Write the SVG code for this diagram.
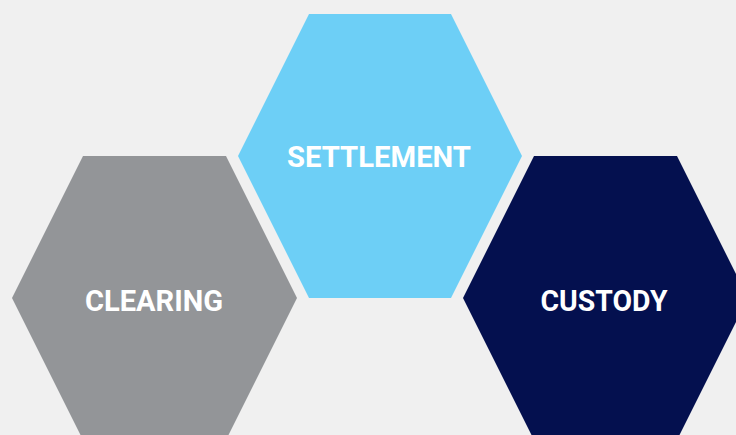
<svg xmlns="http://www.w3.org/2000/svg" width="736" height="435" viewBox="0 0 736 435">
<style>
.lbl{font-family:Roboto,"Liberation Sans",sans-serif;font-weight:bold;font-size:30px;fill:#ffffff;text-anchor:middle}
</style>
<rect width="736" height="435" fill="#f0f0f0"/>
<g id="settlement">
<polygon points="309,14 451,14 522,156 451,298 309,298 238,156" fill="#6dcff6"/>
<text class="lbl" x="379" y="167" textLength="184" lengthAdjust="spacingAndGlyphs">SETTLEMENT</text>
</g>
<g id="clearing">
<polygon points="83,156 226,156 297,298 226,440 83,440 12,298" fill="#939598"/>
<text class="lbl" x="154" y="311" textLength="138" lengthAdjust="spacingAndGlyphs">CLEARING</text>
</g>
<g id="custody">
<polygon points="534,156 677,156 748,298 677,440 534,440 463,298" fill="#04104f"/>
<text class="lbl" x="604" y="311" textLength="127" lengthAdjust="spacingAndGlyphs">CUSTODY</text>
</g>
<g id="connectors"/>
</svg>
